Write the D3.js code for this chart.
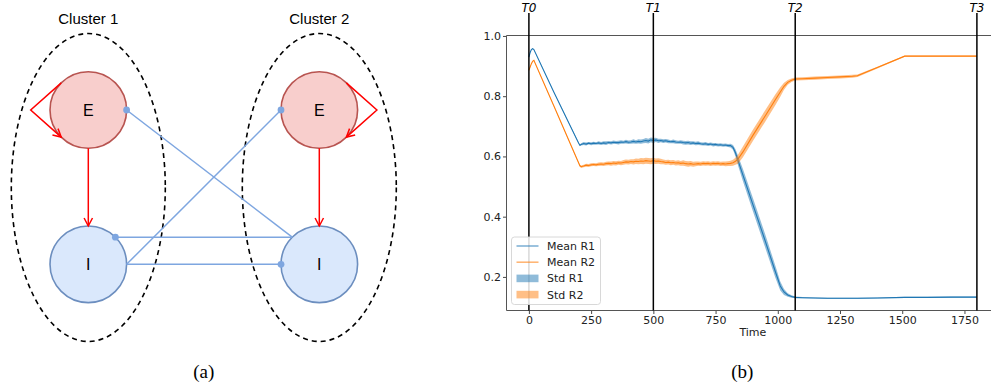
<!DOCTYPE html>
<html>
<head>
<meta charset="utf-8">
<script src="https://cdn.jsdelivr.net/npm/d3@7"></script>
<style>
  body { margin: 0; background: #fff; }
  svg { display: block; }
</style>
</head>
<body>
<svg id="fig" width="991" height="389"></svg>
<script>
// ===== Panel (b): population rates over time =====
const time = [
  0, 5, 10, 15, 20, 100, 200, 205,
  210, 220, 230, 240, 250, 260, 270, 280, 290, 300, 310, 320, 330, 340, 350, 360, 370, 380, 390, 400,
  410, 420, 430, 440, 450, 460, 470, 480, 490, 500, 510, 520, 530, 540, 550, 560, 570, 580, 590, 600,
  610, 620, 630, 640, 650, 660, 670, 680, 690, 700, 710, 720, 730, 740, 750, 760, 770, 780, 790, 800,
  810, 820,
  830, 840, 860, 900, 950, 990, 1010, 1025, 1040, 1055, 1070, 1100, 1150, 1200, 1250, 1300, 1320,
  1400, 1510, 1600, 1700, 1800
];
const meanR1 = [
  0.930, 0.945, 0.955, 0.958, 0.955, 0.814, 0.644, 0.637,
  0.640, 0.643, 0.641, 0.644, 0.642, 0.644, 0.643, 0.645, 0.643, 0.645, 0.644, 0.646, 0.645, 0.647, 0.646, 0.646, 0.648, 0.647, 0.649, 0.647,
  0.648, 0.650, 0.648, 0.650, 0.649, 0.651, 0.653, 0.651, 0.655, 0.653, 0.655, 0.652, 0.653, 0.651, 0.652, 0.650, 0.649, 0.650, 0.648, 0.647,
  0.648, 0.646, 0.645, 0.646, 0.644, 0.645, 0.643, 0.644, 0.642, 0.641, 0.642, 0.640, 0.641, 0.639, 0.640, 0.638, 0.639, 0.637, 0.638, 0.636,
  0.636, 0.630,
  0.612, 0.587, 0.538, 0.440, 0.318, 0.218, 0.170, 0.150, 0.140, 0.135, 0.132, 0.131, 0.130, 0.129, 0.129, 0.129, 0.129,
  0.130, 0.132, 0.132, 0.133, 0.133
];
const meanR2 = [
  0.886, 0.897, 0.908, 0.916, 0.919, 0.768, 0.578, 0.569,
  0.566, 0.568, 0.571, 0.570, 0.572, 0.573, 0.572, 0.574, 0.575, 0.574, 0.576, 0.577, 0.576, 0.578, 0.577, 0.579, 0.578, 0.580, 0.582, 0.581,
  0.583, 0.582, 0.584, 0.583, 0.585, 0.584, 0.586, 0.585, 0.584, 0.586, 0.584, 0.585, 0.583, 0.582, 0.580, 0.581, 0.579, 0.580, 0.578, 0.579,
  0.577, 0.578, 0.576, 0.575, 0.576, 0.574, 0.575, 0.576, 0.575, 0.577, 0.576, 0.577, 0.575, 0.577, 0.576, 0.577, 0.575, 0.576, 0.575, 0.576,
  0.577, 0.579,
  0.584, 0.591, 0.615, 0.670, 0.735, 0.788, 0.814, 0.833, 0.846, 0.853, 0.857, 0.858, 0.860, 0.862, 0.864, 0.866, 0.868,
  0.895, 0.933, 0.933, 0.933, 0.933
];
const stdR1 = [
  0.001, 0.001, 0.001, 0.001, 0.001, 0.001, 0.002, 0.003,
  0.004, 0.005, 0.005, 0.004, 0.005, 0.005, 0.004, 0.005, 0.005, 0.005, 0.006, 0.005, 0.005, 0.006, 0.005, 0.006, 0.006, 0.005, 0.006, 0.006,
  0.006, 0.007, 0.006, 0.007, 0.007, 0.007, 0.008, 0.008, 0.008, 0.008, 0.007, 0.007, 0.006, 0.006, 0.006, 0.006, 0.005, 0.006, 0.006, 0.005,
  0.006, 0.006, 0.006, 0.006, 0.006, 0.005, 0.006, 0.006, 0.005, 0.005, 0.006, 0.005, 0.005, 0.006, 0.005, 0.005, 0.005, 0.005, 0.005, 0.005,
  0.006, 0.008,
  0.012, 0.016, 0.020, 0.022, 0.022, 0.020, 0.015, 0.010, 0.006, 0.004, 0.003, 0.002, 0.002, 0.002, 0.002, 0.002, 0.002,
  0.002, 0.002, 0.002, 0.002, 0.002
];
const stdR2 = [
  0.001, 0.001, 0.001, 0.001, 0.001, 0.001, 0.002, 0.003,
  0.004, 0.004, 0.005, 0.005, 0.005, 0.005, 0.005, 0.006, 0.006, 0.006, 0.006, 0.006, 0.007, 0.007, 0.007, 0.007, 0.007, 0.008, 0.008, 0.008,
  0.008, 0.009, 0.009, 0.009, 0.010, 0.010, 0.010, 0.010, 0.010, 0.010, 0.009, 0.009, 0.009, 0.008, 0.008, 0.008, 0.008, 0.008, 0.008, 0.008,
  0.008, 0.009, 0.009, 0.009, 0.009, 0.008, 0.008, 0.007, 0.007, 0.007, 0.007, 0.007, 0.007, 0.007, 0.007, 0.007, 0.007, 0.007, 0.008, 0.008,
  0.009, 0.010,
  0.012, 0.015, 0.018, 0.019, 0.019, 0.018, 0.016, 0.012, 0.008, 0.006, 0.005, 0.005, 0.005, 0.005, 0.005, 0.005, 0.004,
  0.003, 0.002, 0.002, 0.002, 0.002
];
const xTicks = [0, 250, 500, 750, 1000, 1250, 1500, 1750];
const yTicks = [0.2, 0.4, 0.6, 0.8, 1.0];
const phaseTimes = [0, 500, 1070, 1800];
const phaseLabels = ["T0", "T1", "T2", "T3"];
const legendLabels = ["Mean R1", "Mean R2", "Std R1", "Std R2"];
const xLabel = "Time";

// ===== Panel (a): two E/I clusters =====
const clusterNames = ["Cluster 1", "Cluster 2"];
const nodes = [
  { id: "E1", label: "E", cluster: 0, pop: "E" },
  { id: "I1", label: "I", cluster: 0, pop: "I" },
  { id: "E2", label: "E", cluster: 1, pop: "E" },
  { id: "I2", label: "I", cluster: 1, pop: "I" }
];
const edges = [
  { source: "E1", target: "E1", kind: "exc" },
  { source: "E2", target: "E2", kind: "exc" },
  { source: "E1", target: "I1", kind: "exc" },
  { source: "E2", target: "I2", kind: "exc" },
  { source: "I2", target: "E1", kind: "inh" },
  { source: "I1", target: "E2", kind: "inh" },
  { source: "I2", target: "I1", kind: "inh" },
  { source: "I1", target: "I2", kind: "inh" }
];
const captions = ["(a)", "(b)"];

const svg = d3.select("#fig");
svg.append("rect").attr("width", 991).attr("height", 389).attr("fill", "#fff");

// ---------------- panel (a) ----------------
const defs = svg.append("defs");
defs.append("marker")
  .attr("id", "openArrow").attr("markerUnits", "userSpaceOnUse")
  .attr("viewBox", "-10 -6 12 12").attr("refX", 0).attr("refY", 0)
  .attr("markerWidth", 12).attr("markerHeight", 12).attr("orient", "auto")
  .append("path").attr("d", "M-8,-4.2 L0,0 L-8,4.2")
  .attr("fill", "none").attr("stroke", "#ff0000").attr("stroke-width", 1.5);
defs.append("marker")
  .attr("id", "dotEnd").attr("markerUnits", "userSpaceOnUse")
  .attr("viewBox", "-5 -5 10 10").attr("refX", 0).attr("refY", 0)
  .attr("markerWidth", 10).attr("markerHeight", 10)
  .append("circle").attr("r", 3.4).attr("fill", "#7ea6e0");

const clusterX = d3.scaleLinear().domain([0, 1]).range([88.3, 319.3]);
const popY = d3.scalePoint().domain(["E", "I"]).range([110, 264.3]);
const nodeR = 38.3;
const pos = {};
nodes.forEach(n => { pos[n.id] = { x: clusterX(n.cluster), y: popY(n.pop) }; });

const A = svg.append("g").attr("class", "panel-a");

// dashed cluster outlines + titles
A.selectAll("ellipse.cluster").data(clusterNames).join("ellipse")
  .attr("class", "cluster")
  .attr("cx", (d, i) => clusterX(i)).attr("cy", 187.5)
  .attr("rx", 77).attr("ry", 154)
  .attr("fill", "none").attr("stroke", "#000")
  .attr("stroke-width", 1.6).attr("stroke-dasharray", "5,4");
A.selectAll("text.cluster-title").data(clusterNames).join("text")
  .attr("class", "cluster-title")
  .attr("x", (d, i) => clusterX(i)).attr("y", 23.5)
  .attr("text-anchor", "middle")
  .attr("font-family", "Liberation Sans, Arial, sans-serif").attr("font-size", 15)
  .attr("fill", "#000").text(d => d);

// population nodes
const nodeG = A.selectAll("g.node").data(nodes).join("g").attr("class", "node");
nodeG.append("circle")
  .attr("cx", d => pos[d.id].x).attr("cy", d => pos[d.id].y).attr("r", nodeR)
  .attr("fill", d => d.pop === "E" ? "#f8cecc" : "#dae8fc")
  .attr("stroke", d => d.pop === "E" ? "#b85450" : "#6c8ebf")
  .attr("stroke-width", 1.6);
nodeG.append("text")
  .attr("x", d => pos[d.id].x).attr("y", d => pos[d.id].y + 5.8)
  .attr("text-anchor", "middle")
  .attr("font-family", "Liberation Sans, Arial, sans-serif").attr("font-size", 16)
  .attr("fill", "#000").text(d => d.label);

// attachment points on a node's rim
function rim(id, deg) {
  const p = pos[id], a = deg * Math.PI / 180;
  return [p.x + nodeR * Math.cos(a), p.y - nodeR * Math.sin(a)];
}
function edgePoints(e) {
  const s = nodes.find(n => n.id === e.source), t = nodes.find(n => n.id === e.target);
  if (e.source === e.target) {
    // self-excitation loop on the outer side of the cluster
    const side = s.cluster === 0 ? -1 : 1;
    const p = pos[s.id];
    const a0 = s.cluster === 0 ? 135 : 45, a1 = s.cluster === 0 ? 225 : -45;
    return [rim(s.id, a0), [p.x + side * 57.6, p.y], rim(s.id, a1)];
  }
  if (e.kind === "exc") return [rim(s.id, -90), rim(t.id, 90)];
  // inhibitory projections between clusters
  const start = rim(s.id, s.cluster === 0 ? 0 : 135);
  let endAngle;
  if (t.pop === "E") endAngle = t.cluster === 0 ? 0 : 180;
  else endAngle = t.cluster === 0 ? 45 : 180;
  return [start, rim(t.id, endAngle)];
}
const lineGen = d3.line();
A.selectAll("path.edge").data(edges).join("path")
  .attr("class", "edge")
  .attr("d", d => lineGen(edgePoints(d)))
  .attr("fill", "none")
  .attr("stroke", d => d.kind === "exc" ? "#ff0000" : "#7ea6e0")
  .attr("stroke-width", d => d.kind === "exc" ? 1.5 : 1.5)
  .attr("marker-end", d => d.kind === "exc" ? "url(#openArrow)" : "url(#dotEnd)");

// ---------------- panel (b) ----------------
const data = time.map((t, i) => ({ t, m1: meanR1[i], m2: meanR2[i], s1: stdR1[i], s2: stdR2[i] }));
const x = d3.scaleLinear().domain([-90, 1890]).range([506.5, 999.3]);
const y = d3.scaleLinear().domain([0.0885, 1.0015]).range([310.5, 35.5]);
const B = svg.append("g").attr("class", "panel-b");
const tickFont = "DejaVu Sans, sans-serif";

defs.append("clipPath").attr("id", "plotClip")
  .append("rect").attr("x", 506.5).attr("y", 35.5).attr("width", 999.3 - 506.5).attr("height", 275);

const plot = B.append("g").attr("clip-path", "url(#plotClip)");
const blue = "#1f77b4", orange = "#ff7f0e";

const meanLine = key => d3.line().x(d => x(d.t)).y(d => y(d[key]));
const band = (m, s) => d3.area().x(d => x(d.t)).y0(d => y(d[m] - d[s])).y1(d => y(d[m] + d[s]));

plot.append("path").datum(data).attr("d", meanLine("m1"))
  .attr("fill", "none").attr("stroke", blue).attr("stroke-width", 1.1);
plot.append("path").datum(data).attr("d", meanLine("m2"))
  .attr("fill", "none").attr("stroke", orange).attr("stroke-width", 1.1);
plot.append("path").datum(data).attr("d", band("m1", "s1"))
  .attr("fill", blue).attr("fill-opacity", 0.5);
plot.append("path").datum(data).attr("d", band("m2", "s2"))
  .attr("fill", orange).attr("fill-opacity", 0.5);

// axes
const yAxis = d3.axisLeft(y).tickValues(yTicks).tickFormat(d3.format(".1f")).tickSize(3.5).tickPadding(2);
const xAxis = d3.axisBottom(x).tickValues(xTicks).tickFormat(d3.format("d")).tickSize(3.5).tickPadding(2.2);
const gy = B.append("g").attr("transform", "translate(506.5,0)").call(yAxis);
const gx = B.append("g").attr("transform", "translate(0,310.5)").call(xAxis);
[gx, gy].forEach(g => {
  g.select(".domain").remove();
  g.selectAll(".tick line").attr("stroke", "#333").attr("stroke-width", 0.9);
  g.selectAll(".tick text").attr("font-family", tickFont).attr("font-size", 11).attr("fill", "#222");
});

// spines (right one lies beyond the canvas)
const spine = B.append("g").attr("stroke", "#555").attr("stroke-width", 1).attr("fill", "none");
spine.append("line").attr("x1", 506.5).attr("x2", 506.5).attr("y1", 35.5).attr("y2", 310.5);
spine.append("line").attr("x1", 506.5).attr("x2", 999.3).attr("y1", 35.5).attr("y2", 35.5);
spine.append("line").attr("x1", 506.5).attr("x2", 999.3).attr("y1", 310.5).attr("y2", 310.5);

B.append("text").attr("x", (506.5 + 999.3) / 2).attr("y", 336)
  .attr("text-anchor", "middle").attr("font-family", tickFont).attr("font-size", 11)
  .attr("fill", "#222").text(xLabel);

// phase markers
const phases = B.selectAll("g.phase").data(phaseTimes).join("g").attr("class", "phase");
phases.append("line")
  .attr("x1", d => x(d)).attr("x2", d => x(d))
  .attr("y1", 13).attr("y2", 310.5)
  .attr("stroke", "#000").attr("stroke-width", 1.5);
phases.append("text")
  .attr("x", d => x(d)).attr("y", 11.5)
  .attr("text-anchor", "middle").attr("font-family", tickFont)
  .attr("font-style", "italic").attr("font-size", 12).attr("fill", "#000")
  .text((d, i) => phaseLabels[i]);

// legend
const leg = B.append("g").attr("transform", "translate(511.5,237)");
leg.append("rect").attr("width", 89).attr("height", 67.5).attr("rx", 3)
  .attr("fill", "#fff").attr("fill-opacity", 0.85).attr("stroke", "#d4d4d4").attr("stroke-width", 0.9);
const legColors = [blue, orange, blue, orange];
legendLabels.forEach((lab, i) => {
  const yy = 9 + i * 16.2;
  if (i < 2) {
    leg.append("line").attr("x1", 5).attr("x2", 27).attr("y1", yy).attr("y2", yy)
      .attr("stroke", legColors[i]).attr("stroke-width", 1.5).attr("stroke-opacity", 0.6);
  } else {
    leg.append("rect").attr("x", 5).attr("y", yy - 3.8).attr("width", 22).attr("height", 7.6)
      .attr("fill", legColors[i]).attr("fill-opacity", 0.5);
  }
  leg.append("text").attr("x", 35.5).attr("y", yy + 4).attr("font-family", tickFont)
    .attr("font-size", 11).attr("fill", "#222").text(lab);
});

// panel captions
svg.selectAll("text.caption").data(captions).join("text")
  .attr("class", "caption")
  .attr("x", (d, i) => i === 0 ? 203.7 : 742.3).attr("y", 377.5)
  .attr("text-anchor", "middle")
  .attr("font-family", "Liberation Serif, Times New Roman, serif").attr("font-size", 19)
  .attr("fill", "#000").text(d => d);
</script>
</body>
</html>
